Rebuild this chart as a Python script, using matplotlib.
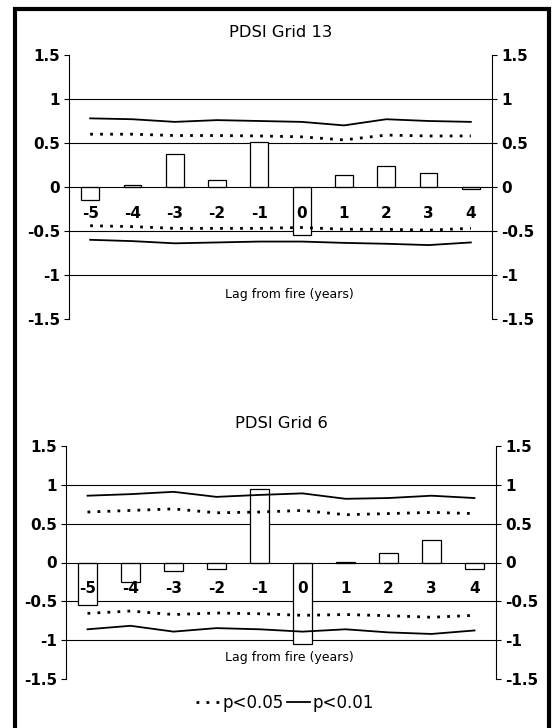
import matplotlib
matplotlib.use("Agg")
import matplotlib.pyplot as plt
from matplotlib.patches import Rectangle
from matplotlib.lines import Line2D

plt.rcParams['font.family'] = ['DejaVu Sans']
plt.rcParams['axes.unicode_minus'] = False

# Lag from fire (years)
lags = [-5, -4, -3, -2, -1, 0, 1, 2, 3, 4]

# PDSI Grid 13
grid13_r = [-0.15, 0.02, 0.38, 0.085, 0.51, -0.55, 0.14, 0.24, 0.16, -0.02]
grid13_p05_up = [0.60, 0.60, 0.585, 0.585, 0.58, 0.57, 0.535, 0.59, 0.58, 0.58]
grid13_p05_lo = [-0.44, -0.45, -0.47, -0.47, -0.47, -0.46, -0.48, -0.48, -0.49, -0.47]
grid13_p01_up = [0.78, 0.77, 0.74, 0.76, 0.75, 0.74, 0.70, 0.77, 0.75, 0.74]
grid13_p01_lo = [-0.60, -0.615, -0.64, -0.63, -0.62, -0.62, -0.635, -0.645, -0.66, -0.63]

# PDSI Grid 6
grid6_r = [-0.55, -0.245, -0.115, -0.085, 0.95, -1.055, 0.01, 0.125, 0.295, -0.085]
grid6_p05_up = [0.65, 0.67, 0.69, 0.64, 0.65, 0.67, 0.615, 0.63, 0.645, 0.63]
grid6_p05_lo = [-0.655, -0.625, -0.67, -0.65, -0.66, -0.68, -0.67, -0.685, -0.705, -0.68]
grid6_p01_up = [0.86, 0.88, 0.91, 0.845, 0.87, 0.89, 0.82, 0.83, 0.86, 0.83]
grid6_p01_lo = [-0.86, -0.815, -0.89, -0.845, -0.86, -0.89, -0.86, -0.90, -0.92, -0.875]

y_ticks = [-1.5, -1, -0.5, 0, 0.5, 1, 1.5]
y_tick_labels = ["-1.5", "-1", "-0.5", "0", "0.5", "1", "1.5"]

DOTTED = (0, (1, 2.6))


def draw_panel(ax, title, r, p05_up, p05_lo, p01_up, p01_lo):
    x = list(range(len(lags)))
    ax.bar(x, r, width=0.42, color="white", edgecolor="black", linewidth=0.9, zorder=2)

    for yv in (1, 0.5, -0.5, -1):
        ax.axhline(yv, color="black", linewidth=0.8, zorder=1)

    for up, lo, style, lw in ((p05_up, p05_lo, DOTTED, 2.0), (p01_up, p01_lo, "-", 1.3)):
        ax.plot(x, up, color="black", linestyle=style, linewidth=lw, zorder=3)
        ax.plot(x, lo, color="black", linestyle=style, linewidth=lw, zorder=3)

    ax.set_xlim(-0.5, len(lags) - 0.5)
    ax.set_ylim(-1.5, 1.5)
    ax.set_axisbelow(False)

    ax.set_yticks(y_ticks)
    ax.set_yticklabels(y_tick_labels)
    ax.tick_params(axis="y", direction="out", length=3.5, width=0.8,
                   left=True, right=True, labelleft=True, labelright=True,
                   labelsize=11, pad=3)
    for t in ax.yaxis.get_major_ticks():
        t.label1.set_fontweight("bold")
        t.label2.set_fontweight("bold")

    ax.spines["top"].set_visible(False)
    for side in ("left", "right", "bottom"):
        ax.spines[side].set_linewidth(0.8)
    ax.spines["bottom"].set_position(("data", 0))

    ax.set_xticks(x)
    ax.set_xticklabels([str(v) for v in lags])
    ax.tick_params(axis="x", length=0, pad=13.5, labelsize=11)
    for lbl in ax.get_xticklabels():
        lbl.set_fontweight("bold")

    ax.set_title(title, fontsize=11.8, pad=13)
    ax.text(0.52, 0.093, "Lag from fire (years)", transform=ax.transAxes,
            ha="center", va="center", fontsize=9)


fig = plt.figure(figsize=(5.54, 7.28), dpi=100)

ax_top = fig.add_axes([69 / 554, 1 - 319 / 728, 423 / 554, 264 / 728])
draw_panel(ax_top, "PDSI Grid 13", grid13_r, grid13_p05_up, grid13_p05_lo,
           grid13_p01_up, grid13_p01_lo)

ax_bot = fig.add_axes([66 / 554, 1 - 679 / 728, 430 / 554, 233 / 728])
draw_panel(ax_bot, "PDSI Grid 6", grid6_r, grid6_p05_up, grid6_p05_lo,
           grid6_p01_up, grid6_p01_lo)

handles = [Line2D([], [], color="black", linestyle=DOTTED, linewidth=2.0),
           Line2D([], [], color="black", linestyle="-", linewidth=1.3)]
fig.legend(handles, ["p<0.05", "p<0.01"], loc="center",
           bbox_to_anchor=(0.515, 0.034), ncol=2, frameon=False, fontsize=12,
           handlelength=1.4, handletextpad=0.15, columnspacing=0.2)

# outer frame
fig.patches.append(Rectangle((15 / 554, -0.01), 534 / 554, 1.01 - 9 / 728,
                             transform=fig.transFigure, fill=False,
                             edgecolor="black", linewidth=3))

fig.savefig("out.png", dpi=100)
